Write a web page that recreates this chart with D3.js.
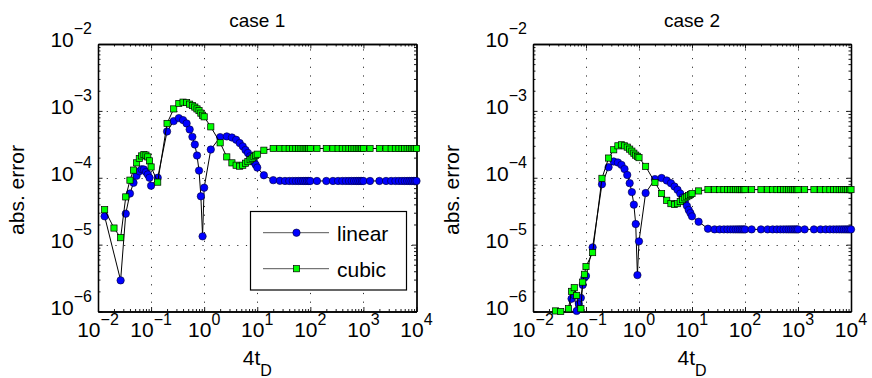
<!DOCTYPE html>
<html><head><meta charset="utf-8">
<script src="https://cdn.jsdelivr.net/npm/d3@7"></script>
<style>
body{margin:0;background:#fff}
text{font-family:"Liberation Sans",Arial,Helvetica,sans-serif;fill:#000}
</style>
</head><body>
<svg id="c" width="872" height="378"></svg>
<script>
// ---- data (4t_D values and absolute errors) ----
const tD4 = [
  0.01333,0.02,0.02667,0.03333,0.04,0.04667,0.05333,0.06,0.06667,0.07333,0.08,0.08667,0.09333,0.1,
  0.1333,0.2,0.2667,0.3333,0.4,0.4667,0.5333,0.6,0.6667,0.7333,0.8,0.8667,0.9333,1,
  1.333,2,2.667,3.333,4,4.667,5.333,6,6.667,7.333,8,8.667,9.333,10,
  13.33,20,26.67,33.33,40,46.67,53.33,60,66.67,73.33,80,86.67,93.33,100,
  133.3,200,266.7,333.3,400,466.7,533.3,600,666.7,733.3,800,866.7,933.3,1000,
  1333,2000,2667,3333,4000,4667,5333,6000,6667,7333,8000,8667,9333,10000
];
const c1Linear = [
  2.65e-5,null,2.92e-6,2.9e-5,5.8e-5,8.4e-5,1.07e-4,1.25e-4,1.34e-4,1.33e-4,1.22e-4,1.12e-4,1.0e-4,7.6e-5,
  1.0e-4,4.92e-4,7.03e-4,7.8e-4,7.28e-4,6.49e-4,5.27e-4,4.09e-4,3.14e-4,2.15e-4,1.28e-4,5.28e-5,1.33e-5,7.1e-5,
  2.64e-4,4.05e-4,4.15e-4,4.0e-4,3.7e-4,3.3e-4,2.95e-4,2.6e-4,2.35e-4,2.1e-4,1.9e-4,1.72e-4,1.57e-4,1.42e-4,
  1.09e-4,9.2e-5,9.0e-5,8.95e-5,8.95e-5,8.95e-5,8.95e-5,8.95e-5,8.95e-5,8.95e-5,8.95e-5,8.95e-5,8.95e-5,8.95e-5,
  8.95e-5,8.95e-5,8.95e-5,8.95e-5,8.95e-5,8.95e-5,8.95e-5,8.95e-5,8.95e-5,8.95e-5,8.95e-5,8.95e-5,8.95e-5,8.95e-5,
  8.95e-5,8.95e-5,8.95e-5,8.95e-5,8.95e-5,8.95e-5,8.95e-5,8.95e-5,8.95e-5,8.95e-5,8.95e-5,8.95e-5,8.95e-5,8.95e-5
];
const c1Cubic = [
  3.33e-5,1.77e-5,1.27e-5,5.17e-5,9.2e-5,1.3e-4,1.67e-4,1.94e-4,2.12e-4,2.22e-4,2.18e-4,2.05e-4,1.79e-4,1.45e-4,
  8.6e-5,6.49e-4,1.07e-3,1.29e-3,1.35e-3,1.33e-3,1.26e-3,1.2e-3,1.14e-3,1.07e-3,1.01e-3,9.25e-4,8.6e-4,8.15e-4,
  5.77e-4,3.33e-4,2.05e-4,1.67e-4,1.54e-4,1.49e-4,1.54e-4,1.65e-4,1.74e-4,1.86e-4,1.96e-4,2.06e-4,2.17e-4,2.25e-4,
  2.58e-4,2.74e-4,2.74e-4,2.74e-4,2.74e-4,2.74e-4,2.74e-4,2.74e-4,2.74e-4,2.74e-4,2.74e-4,2.74e-4,2.74e-4,2.74e-4,
  2.74e-4,2.74e-4,2.74e-4,2.74e-4,2.74e-4,2.74e-4,2.74e-4,2.74e-4,2.74e-4,2.74e-4,2.74e-4,2.74e-4,2.74e-4,2.74e-4,
  2.74e-4,2.74e-4,2.74e-4,2.74e-4,2.74e-4,2.74e-4,2.74e-4,2.74e-4,2.74e-4,2.74e-4,2.74e-4,2.74e-4,2.74e-4,2.74e-4
];
const c2Linear = [
  7e-7,7e-7,8e-7,8e-7,8e-7,9e-7,1.55e-6,1.75e-6,1.02e-6,1.3e-6,1.6e-6,2.5e-6,3.2e-6,3.4e-6,
  9.1e-6,8.0e-5,1.44e-4,1.75e-4,1.69e-4,1.56e-4,1.35e-4,1.1e-4,8.3e-5,6.1e-5,3.96e-5,2.03e-5,3.5e-6,1.12e-5,
  5.9e-5,9.55e-5,9.9e-5,9.1e-5,8.3e-5,7.4e-5,6.6e-5,5.8e-5,5.1e-5,4.4e-5,3.8e-5,3.3e-5,2.97e-5,2.65e-5,
  2.2e-5,1.73e-5,1.69e-5,1.69e-5,1.69e-5,1.69e-5,1.69e-5,1.69e-5,1.69e-5,1.69e-5,1.69e-5,1.69e-5,1.69e-5,1.69e-5,
  1.69e-5,1.69e-5,1.69e-5,1.69e-5,1.69e-5,1.69e-5,1.69e-5,1.69e-5,1.69e-5,1.69e-5,1.69e-5,1.69e-5,1.69e-5,1.69e-5,
  1.69e-5,1.69e-5,1.69e-5,1.69e-5,1.69e-5,1.69e-5,1.69e-5,1.69e-5,1.69e-5,1.69e-5,1.69e-5,1.69e-5,1.69e-5,1.69e-5
];
const c2Cubic = [
  7e-7,9e-7,1.02e-6,1.0e-6,9e-7,1.1e-6,2.0e-6,2.27e-6,1.74e-6,9.5e-7,1.1e-6,2.75e-6,3.6e-6,4.7e-6,
  7.6e-6,9.8e-5,1.97e-4,2.62e-4,3.0e-4,3.11e-4,3.0e-4,2.87e-4,2.68e-4,2.5e-4,2.33e-4,2.18e-4,2.09e-4,2.0e-4,
  1.48e-4,8.5e-5,5.8e-5,4.6e-5,4.1e-5,3.98e-5,4.1e-5,4.4e-5,4.7e-5,5.0e-5,5.2e-5,5.4e-5,5.6e-5,5.8e-5,
  6.35e-5,6.65e-5,6.65e-5,6.65e-5,6.65e-5,6.65e-5,6.65e-5,6.65e-5,6.65e-5,6.65e-5,6.65e-5,6.65e-5,6.65e-5,6.65e-5,
  6.65e-5,6.65e-5,6.65e-5,6.65e-5,6.65e-5,6.65e-5,6.65e-5,6.65e-5,6.65e-5,6.65e-5,6.65e-5,6.65e-5,6.65e-5,6.65e-5,
  6.65e-5,6.65e-5,6.65e-5,6.65e-5,6.65e-5,6.65e-5,6.65e-5,6.65e-5,6.65e-5,6.65e-5,6.65e-5,6.65e-5,6.65e-5,6.65e-5
];
const xTickExp = [-2,-1,0,1,2,3,4];
const yTickExp = [-6,-5,-4,-3,-2];
const titles = ["case 1","case 2"];
const seriesNames = ["linear","cubic"];
const yLabelText = "abs. error";
const xLabelMain = "4t", xLabelSub = "D";

// ---- layout ----
const svg = d3.select("#c");
const panels = [{x0:98,x1:416.5},{x0:533,x1:851}];
const yTop = 44, yBot = 311.5;
const panelData = [[c1Linear,c1Cubic],[c2Linear,c2Cubic]];
const FS = 21, FSsup = 16;
const MINUS = "\u2212";
const R = 3.7, SQ = 6.2;

const defs = svg.append("defs");

panels.forEach((P,i)=>{
  const x = d3.scaleLog().domain([1e-2,1e4]).range([P.x0,P.x1]);
  const y = d3.scaleLog().domain([1e-6,1e-2]).range([yBot,yTop]);
  const g = svg.append("g");
  const majX = xTickExp.map(e=>Math.pow(10,e));
  const majY = yTickExp.map(e=>Math.pow(10,e));
  const minX = [], minY = [];
  xTickExp.slice(0,-1).forEach(e=>{for(let k=2;k<10;k++) minX.push(k*Math.pow(10,e));});
  yTickExp.slice(0,-1).forEach(e=>{for(let k=2;k<10;k++) minY.push(k*Math.pow(10,e));});

  g.append("rect").attr("x",P.x0).attr("y",yTop).attr("width",P.x1-P.x0).attr("height",yBot-yTop).attr("fill","#fff");

  // grid
  const grid = g.append("g").attr("stroke","#000").attr("stroke-width",1).attr("stroke-dasharray","1.2 7.5").attr("opacity",0.8);
  grid.selectAll(".gx").data(majX.slice(1,-1)).join("line")
    .attr("x1",d=>Math.round(x(d))+0.5).attr("x2",d=>Math.round(x(d))+0.5).attr("y1",yBot).attr("y2",yTop);
  grid.selectAll(".gy").data(majY.slice(1,-1)).join("line")
    .attr("y1",d=>Math.round(y(d))+0.5).attr("y2",d=>Math.round(y(d))+0.5).attr("x1",P.x0).attr("x2",P.x1);

  // axes ticks (inward, all four sides)
  const axG = g.append("g");
  const mk = (axisFn, scale, vals, size, tr) => {
    const a = axisFn(scale).tickValues(vals).tickSizeInner(-size).tickSizeOuter(0).tickFormat("");
    const s = axG.append("g").attr("transform",tr).call(a);
    s.selectAll("line").attr("stroke","#000").attr("stroke-width",0.9);
    s.select(".domain").attr("stroke","#000").attr("stroke-width",1.3);
  };
  mk(d3.axisBottom,x,majX,4.5,`translate(0,${yBot})`);
  mk(d3.axisBottom,x,minX,2.5,`translate(0,${yBot})`);
  mk(d3.axisTop,x,majX,4.5,`translate(0,${yTop})`);
  mk(d3.axisTop,x,minX,2.5,`translate(0,${yTop})`);
  mk(d3.axisLeft,y,majY,4.5,`translate(${P.x0},0)`);
  mk(d3.axisLeft,y,minY,2.5,`translate(${P.x0},0)`);
  mk(d3.axisRight,y,majY,4.5,`translate(${P.x1},0)`);
  mk(d3.axisRight,y,minY,2.5,`translate(${P.x1},0)`);

  // tick labels
  xTickExp.forEach(e=>{
    const t = g.append("text").attr("x",x(Math.pow(10,e))).attr("y",336.5)
      .attr("text-anchor","middle").attr("font-size",FS);
    t.append("tspan").text("10");
    t.append("tspan").attr("dy",-12).attr("font-size",FSsup).text(e<0?MINUS+(-e):String(e));
  });
  yTickExp.forEach(e=>{
    const t = g.append("text").attr("x",P.x0-6).attr("y",y(Math.pow(10,e))+3)
      .attr("text-anchor","end").attr("font-size",FS);
    t.append("tspan").text("10");
    t.append("tspan").attr("dy",-13).attr("font-size",FSsup).text(e<0?MINUS+(-e):String(e));
  });

  // title
  g.append("text").attr("x",(P.x0+P.x1)/2).attr("y",27).attr("text-anchor","middle")
    .attr("font-size",19).text(titles[i]);
  // y label
  g.append("text").attr("transform",`translate(${P.x0-74},${190}) rotate(-90)`)
    .attr("text-anchor","middle").attr("font-size",FS).text(yLabelText);
  // x label
  const xl = g.append("text").attr("x",(P.x0+P.x1)/2).attr("y",365).attr("text-anchor","middle").attr("font-size",FS);
  xl.append("tspan").text(xLabelMain);
  xl.append("tspan").attr("dy",11).attr("font-size",FSsup).text(xLabelSub);

  // clip
  const cid = "clip"+i;
  defs.append("clipPath").attr("id",cid).append("rect")
    .attr("x",P.x0).attr("y",yTop).attr("width",P.x1-P.x0).attr("height",yBot-yTop);

  const line = d3.line().x(d=>x(d.x)).y(d=>y(d.y));
  const inDom = d=>d.y>=1e-6*0.999 && d.y<=1e-2;
  panelData[i].forEach((arr,si)=>{
    const pts = tD4.map((v,j)=>({x:v,y:arr[j]})).filter(d=>d.y!=null);
    g.append("path").datum(pts).attr("d",line).attr("fill","none")
      .attr("stroke","#000").attr("stroke-width",1).attr("clip-path",`url(#${cid})`);
    const vis = pts.filter(inDom);
    if(si===0){
      g.append("g").selectAll("circle").data(vis).join("circle")
        .attr("cx",d=>x(d.x)).attr("cy",d=>y(d.y)).attr("r",R)
        .attr("fill","#0000ff").attr("stroke","#000033").attr("stroke-width",0.6);
    } else {
      g.append("g").selectAll("rect").data(vis).join("rect")
        .attr("x",d=>x(d.x)-SQ/2).attr("y",d=>y(d.y)-SQ/2).attr("width",SQ).attr("height",SQ)
        .attr("fill","#00ff00").attr("stroke","#000").attr("stroke-width",0.7);
    }
  });

  // legend (left panel only)
  if(i===0){
    const lg = g.append("g");
    lg.append("rect").attr("x",250.5).attr("y",211.5).attr("width",156).attr("height",78.5)
      .attr("fill","#fff").attr("stroke","#000").attr("stroke-width",1.2);
    const rows = [232.7,268.7];
    rows.forEach((ry,k)=>{
      lg.append("line").attr("x1",263).attr("x2",329).attr("y1",ry).attr("y2",ry)
        .attr("stroke","#555").attr("stroke-width",1);
      if(k===0){
        lg.append("circle").attr("cx",296.5).attr("cy",ry).attr("r",R)
          .attr("fill","#0000ff").attr("stroke","#000033").attr("stroke-width",0.6);
      } else {
        lg.append("rect").attr("x",296.5-SQ/2).attr("y",ry-SQ/2).attr("width",SQ).attr("height",SQ)
          .attr("fill","#00ff00").attr("stroke","#000").attr("stroke-width",0.7);
      }
      lg.append("text").attr("x",337).attr("y",ry+8).attr("font-size",FS).text(seriesNames[k]);
    });
  }
});
</script>
</body></html>
